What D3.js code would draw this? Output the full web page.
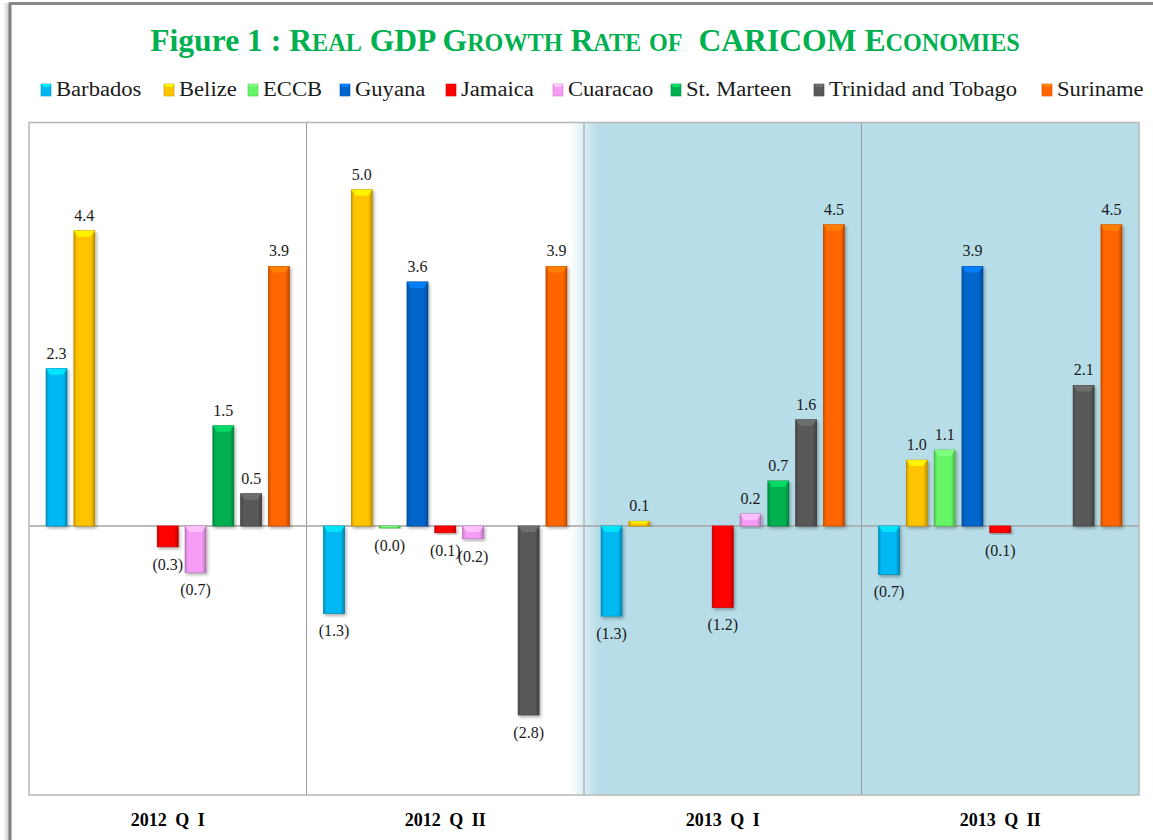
<!DOCTYPE html>
<html><head><meta charset="utf-8">
<script src="https://cdn.jsdelivr.net/npm/d3@7"></script>
<style>body{margin:0;background:#fff;}svg{display:block;}</style>
</head><body>
<svg id="chart" width="1153" height="840"></svg>
<script>
// ---------- data ----------
const categories = ["2012 Q I", "2012 Q II", "2013 Q I", "2013 Q II"];
const seriesNames = ["Barbados", "Belize", "ECCB", "Guyana", "Jamaica", "Cuaracao", "St. Marteen", "Trinidad and Tobago", "Suriname"];
const seriesColors = ["#00b8f2", "#ffc400", "#66f566", "#0066cc", "#ff0000", "#f59cf5", "#00b050", "#595959", "#ff6600"];
const barbados  = [2.34, -1.30, -1.34, -0.72];
const belize    = [4.39, 5.00, 0.07, 0.98];
const eccb      = [null, -0.03, null, 1.13];
const guyana    = [null, 3.63, null, 3.86];
const jamaica   = [-0.31, -0.10, -1.21, -0.10];
const cuaracao  = [-0.69, -0.19, 0.18, null];
const stMarteen = [1.49, null, 0.67, null];
const trinidad  = [0.48, -2.81, 1.58, 2.09];
const suriname  = [3.86, 3.86, 4.48, 4.48];
const yDomain = [-4, 6];
const shadedCategories = ["2013 Q I", "2013 Q II"];

const seriesValues = [barbados, belize, eccb, guyana, jamaica, cuaracao, stMarteen, trinidad, suriname];

// ---------- layout ----------
const svg = d3.select("#chart");
const plot = {left: 29, right: 1139, top: 122.5, bottom: 795};
const serif = "'Liberation Serif', 'DejaVu Serif', serif";

const defs = svg.append("defs");
const shadeGrad = defs.append("linearGradient").attr("id", "shadeEdge").attr("x1", "0").attr("x2", "1").attr("y1", "0").attr("y2", "0");
shadeGrad.append("stop").attr("offset", "0").attr("stop-color", "#ffffff");
shadeGrad.append("stop").attr("offset", "1").attr("stop-color", "#b7dde8");
const sheen = defs.append("linearGradient").attr("id", "sheen").attr("x1", "0").attr("x2", "1").attr("y1", "0").attr("y2", "0");
[[0, "#000", 0.18], [0.15, "#000", 0], [0.8, "#000", 0], [1, "#000", 0.25]].forEach(s =>
  sheen.append("stop").attr("offset", s[0]).attr("stop-color", s[1]).attr("stop-opacity", s[2]));
const frameGrad = defs.append("linearGradient").attr("id", "frameShadow").attr("x1", "0").attr("x2", "1");
frameGrad.append("stop").attr("offset", "0").attr("stop-color", "#fff");
frameGrad.append("stop").attr("offset", "1").attr("stop-color", "#c8c8c8");
const shadow = defs.append("filter").attr("id", "dropShadow").attr("x", "-30%").attr("y", "-10%").attr("width", "170%").attr("height", "130%");
shadow.append("feDropShadow").attr("dx", 1.5).attr("dy", 2).attr("stdDeviation", 1.5).attr("flood-color", "#000").attr("flood-opacity", 0.3);

// page frame (left/top)
svg.append("rect").attr("x", 3).attr("y", 3).attr("width", 6).attr("height", 840).attr("fill", "url(#frameShadow)");
svg.append("line").attr("x1", 10).attr("x2", 10).attr("y1", 3).attr("y2", 840).attr("stroke", "#808080").attr("stroke-width", 3);
svg.append("line").attr("x1", 9).attr("x2", 1153).attr("y1", 3.5).attr("y2", 3.5).attr("stroke", "#8a8a8a").attr("stroke-width", 3);

// scales
const x0 = d3.scaleBand().domain(categories).range([plot.left, plot.right]).paddingInner(0).paddingOuter(0);
const x1 = d3.scaleBand().domain(seriesNames).range([0, x0.bandwidth()]).paddingInner(0.247).paddingOuter(0.615);
const y = d3.scaleLinear().domain(yDomain).range([plot.bottom, plot.top]);
const color = d3.scaleOrdinal().domain(seriesNames).range(seriesColors);

// plot background
svg.append("rect").attr("x", plot.left).attr("y", plot.top).attr("width", plot.right - plot.left).attr("height", plot.bottom - plot.top).attr("fill", "#fff");
const shadeStart = d3.min(shadedCategories, c => x0(c));
svg.append("rect").attr("x", shadeStart - 14).attr("y", plot.top).attr("width", 28).attr("height", plot.bottom - plot.top).attr("fill", "url(#shadeEdge)");
svg.append("rect").attr("x", shadeStart + 14).attr("y", plot.top).attr("width", plot.right - shadeStart - 14).attr("height", plot.bottom - plot.top).attr("fill", "#b7dde8");

// group dividers
svg.selectAll("line.div").data(categories.slice(1)).join("line")
  .attr("x1", d => x0(d)).attr("x2", d => x0(d)).attr("y1", plot.top).attr("y2", plot.bottom)
  .attr("stroke", "#9a9a9a").attr("stroke-width", 1);

// zero line
svg.append("line").attr("x1", plot.left).attr("x2", plot.right).attr("y1", y(0)).attr("y2", y(0)).attr("stroke", "#a6a6a6").attr("stroke-width", 1.5);

// border
svg.append("rect").attr("x", plot.left).attr("y", plot.top).attr("width", plot.right - plot.left).attr("height", plot.bottom - plot.top)
  .attr("fill", "none").attr("stroke", "#b8b8b8").attr("stroke-width", 1.5);

// bars
const barData = [];
categories.forEach((c, ci) => seriesNames.forEach((s, si) => {
  const v = seriesValues[si][ci];
  if (v !== null && v !== undefined) barData.push({cat: c, series: s, value: v});
}));
const fmt = v => v < 0 ? "(" + Math.abs(v).toFixed(1) + ")" : v.toFixed(1);

const bars = svg.append("g").selectAll("g.bar").data(barData).join("g").attr("class", "bar")
  .attr("transform", d => `translate(${x0(d.cat) + x1(d.series)},0)`);
const bw = x1.bandwidth();
bars.append("rect")
  .attr("x", 0).attr("width", bw)
  .attr("y", d => Math.min(y(0), y(d.value)))
  .attr("height", d => Math.max(1.5, Math.abs(y(d.value) - y(0))))
  .attr("fill", d => color(d.series))
  .attr("stroke", d => d3.color(color(d.series)).darker(0.6))
  .attr("stroke-width", 0.8)
  .attr("filter", "url(#dropShadow)");
bars.append("rect")
  .attr("x", 0).attr("width", bw)
  .attr("y", d => Math.min(y(0), y(d.value)))
  .attr("height", d => Math.max(1.5, Math.abs(y(d.value) - y(0))))
  .attr("fill", "url(#sheen)");
bars.append("path")
  .attr("d", d => {
    const top = Math.min(y(0), y(d.value));
    const h = Math.min(6, Math.abs(y(d.value) - y(0)) / 2);
    return `M0,${top}L${bw},${top}L${bw - 4},${top + h}L4,${top + h}Z`;
  })
  .attr("fill", d => d3.color(color(d.series)).brighter(0.7))
  .attr("opacity", 0.85);

// data labels
svg.append("g").selectAll("text").data(barData).join("text")
  .attr("x", d => x0(d.cat) + x1(d.series) + bw / 2)
  .attr("y", d => d.value >= 0 ? y(d.value) - 10 : y(d.value) + 23)
  .attr("text-anchor", "middle")
  .attr("font-family", serif).attr("font-size", 16).attr("fill", "#1a1a1a")
  .text(d => fmt(d.value));

// category labels
svg.append("g").selectAll("text").data(categories).join("text")
  .attr("x", d => x0(d) + x0.bandwidth() / 2)
  .attr("y", 826)
  .attr("text-anchor", "middle")
  .attr("font-family", serif).attr("font-size", 18).attr("font-weight", "bold").attr("fill", "#000")
  .attr("word-spacing", 4)
  .text(d => d);

// legend
const legendX = [41, 164, 248, 340, 446, 553, 671, 814, 1042];
const leg = svg.append("g").selectAll("g").data(seriesNames).join("g")
  .attr("transform", (d, i) => `translate(${legendX[i]},84)`);
leg.append("rect").attr("width", 10).attr("height", 12).attr("fill", d => color(d))
  .attr("stroke", d => d3.color(color(d)).darker(0.6)).attr("stroke-width", 0.6);
leg.append("path").attr("d", "M0,0L10,0L8,3L2,3Z").attr("fill", d => d3.color(color(d)).brighter(0.7));
leg.append("text").attr("x", 15).attr("y", 12)
  .attr("font-family", serif).attr("font-size", 20).attr("fill", "#1a1a1a")
  .text(d => d)
  .each(function() {
    const w = this.getComputedTextLength();
    d3.select(this).attr("textLength", w * 1.13).attr("lengthAdjust", "spacingAndGlyphs");
  });

// title with small caps
const titleParts = [
  {t: "Figure 1 : ", sc: false},
  {t: "Real GDP Growth Rate of  CARICOM Economies", sc: true}
];
const title = svg.append("text").attr("x", 585).attr("y", 51).attr("text-anchor", "middle")
  .attr("font-family", serif).attr("font-weight", "bold").attr("fill", "#00b050")
  .style("white-space", "pre");
const big = 34, small = 26;
const spans = [];
titleParts.forEach(p => {
  if (!p.sc) { spans.push(title.append("tspan").attr("font-size", big).datum(big).text(p.t)); return; }
  const runs = [];
  for (const ch of p.t) {
    const isLower = ch !== ch.toUpperCase();
    const last = runs[runs.length - 1];
    if (last && last.lower === isLower) last.s += ch; else runs.push({s: ch, lower: isLower});
  }
  runs.forEach(r => spans.push(title.append("tspan").attr("font-size", r.lower ? small : big).datum(r.lower ? small : big).text(r.lower ? r.s.toUpperCase() : r.s)));
});
const tw = title.node().getComputedTextLength();
const k = Math.max(0.85, Math.min(1.15, 870 / tw));
spans.forEach(s => s.attr("font-size", s.datum() * k));
</script>
</body></html>
